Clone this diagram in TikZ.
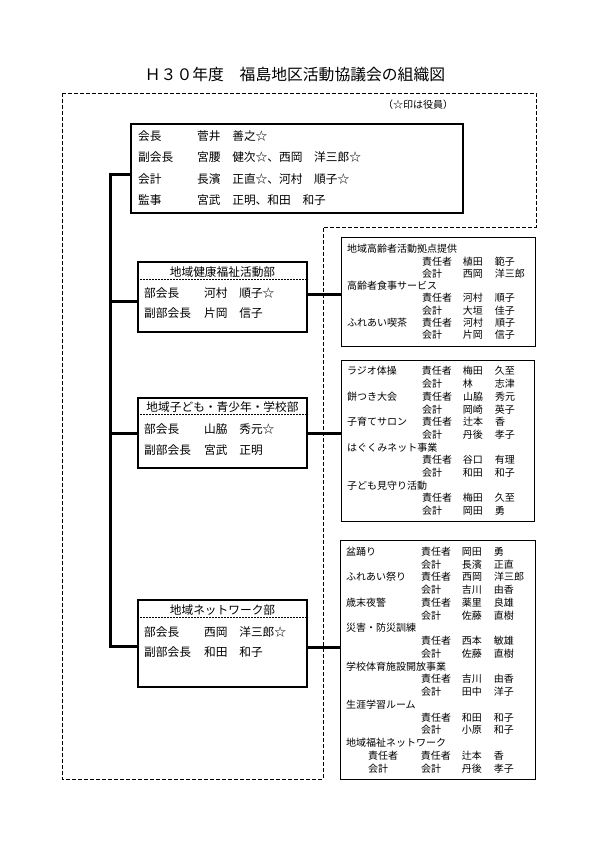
\documentclass[tikz,border=0pt]{standalone}
\usepackage{fontspec}
\setmainfont{Noto Sans CJK JP}
\newcommand{\officer}[2]{\makebox[59pt][l]{#1}#2}
\newcommand{\deptrow}[2]{\makebox[60pt][l]{#1}#2}
\newcommand{\duty}[4]{\makebox[75pt][l]{#1}\makebox[41pt][l]{#2}\makebox[32pt][l]{#3}#4}

\begin{document}
\begin{tikzpicture}[x=1pt,y=-1pt,
  frame/.style={draw, line width=2pt, anchor=north west, inner sep=0pt},
  unitbox/.style={draw, line width=1pt, anchor=north west, inner xsep=5.5pt, inner ysep=0pt,
    align=left, font=\fontsize{10}{#1}\selectfont},
  row/.style={anchor=base west, inner sep=0pt, font=\fontsize{11.7}{14}\selectfont},
  divider/.style={dash pattern=on 2pt off 1pt, line width=0.7pt},
  bus/.style={line width=3pt, line join=miter},
  outline/.style={dash pattern=on 4pt off 2pt, line width=0.8pt}]
\useasboundingbox (0,0) rectangle (595,842);

\node[font=\fontsize{15.8}{18}\selectfont] (title) at (295,75) {Ｈ３０年度　福島地区活動協議会の組織図};
\draw[outline] (62,93) -- (536,93) -- (536,227) -- (323,227) -- (323,779) -- (62,779) -- cycle;
\node[font=\fontsize{10}{12}\selectfont] (note) at (418,105) {（☆印は役員）};

% officers
\node[frame, minimum width=332pt, minimum height=89pt] (board) at (130,123) {};
\node[row] (board1) at (138,140.4) {\officer{会長}{菅井　善之☆}};
\node[row] (board2) at (138,161.6) {\officer{副会長}{宮腰　健次☆、西岡　洋三郎☆}};
\node[row] (board3) at (138,183.2) {\officer{会計}{長濱　正直☆、河村　順子☆}};
\node[row] (board4) at (138,204.4) {\officer{監事}{宮武　正明、和田　和子}};

% departments
\node[frame, minimum width=169pt, minimum height=70pt] (health) at (137,261) {};
\draw[divider] ([yshift=-18pt]health.north west) -- ([yshift=-18pt]health.north east);
\node[row, anchor=base] (healthT) at ([yshift=-15.4pt]health.north) {地域健康福祉活動部};
\node[row] (health1) at (144,297.4) {\deptrow{部会長}{河村　順子☆}};
\node[row] (health2) at (144,317.9) {\deptrow{副部会長}{片岡　信子}};

\node[frame, minimum width=169pt, minimum height=70pt] (youthdept) at (137,397) {};
\draw[divider] ([yshift=-17pt]youthdept.north west) -- ([yshift=-17pt]youthdept.north east);
\node[row, anchor=base] (youthT) at ([yshift=-14.4pt]youthdept.north) {地域子ども・青少年・学校部};
\node[row] (youth1) at (144,433.4) {\deptrow{部会長}{山脇　秀元☆}};
\node[row] (youth2) at (144,454.4) {\deptrow{副部会長}{宮武　正明}};

\node[frame, minimum width=169pt, minimum height=87pt] (netdept) at (137,599) {};
\draw[divider] ([yshift=-18pt]netdept.north west) -- ([yshift=-18pt]netdept.north east);
\node[row, anchor=base] (netT) at ([yshift=-15.4pt]netdept.north) {地域ネットワーク部};
\node[row] (net1) at (144,636.4) {\deptrow{部会長}{西岡　洋三郎☆}};
\node[row] (net2) at (144,656.4) {\deptrow{副部会長}{和田　和子}};

% activities
\node[unitbox=12.3, text width=183pt, minimum height=109pt] (healthjobs) at (341,237) {%
地域高齢者活動拠点提供\\
\duty{}{責任者}{植田}{範子}\\
\duty{}{会計}{西岡}{洋三郎}\\
高齢者食事サービス\\
\duty{}{責任者}{河村}{順子}\\
\duty{}{会計}{大垣}{佳子}\\
\duty{ふれあい喫茶}{責任者}{河村}{順子}\\
\duty{}{会計}{片岡}{信子}};

\node[unitbox=12.7, text width=182pt, minimum height=161pt] (youthjobs) at (341,360) {%
\duty{ラジオ体操}{責任者}{梅田}{久至}\\
\duty{}{会計}{林}{志津}\\
\duty{餅つき大会}{責任者}{山脇}{秀元}\\
\duty{}{会計}{岡崎}{英子}\\
\duty{子育てサロン}{責任者}{辻本}{香}\\
\duty{}{会計}{丹後}{孝子}\\
はぐくみネット事業\\
\duty{}{責任者}{谷口}{有理}\\
\duty{}{会計}{和田}{和子}\\
子ども見守り活動\\
\duty{}{責任者}{梅田}{久至}\\
\duty{}{会計}{岡田}{勇}};

\node[unitbox=12.76, text width=184pt, minimum height=239pt] (netjobs) at (340,540) {%
\duty{盆踊り}{責任者}{岡田}{勇}\\
\duty{}{会計}{長濱}{正直}\\
\duty{ふれあい祭り}{責任者}{西岡}{洋三郎}\\
\duty{}{会計}{吉川}{由香}\\
\duty{歳末夜警}{責任者}{薬里}{良雄}\\
\duty{}{会計}{佐藤}{直樹}\\
災害・防災訓練\\
\duty{}{責任者}{西本}{敏雄}\\
\duty{}{会計}{佐藤}{直樹}\\
学校体育施設開放事業\\
\duty{}{責任者}{吉川}{由香}\\
\duty{}{会計}{田中}{洋子}\\
生涯学習ルーム\\
\duty{}{責任者}{和田}{和子}\\
\duty{}{会計}{小原}{和子}\\
地域福祉ネットワーク\\
\duty{\hspace*{22pt}責任者}{責任者}{辻本}{香}\\
\duty{\hspace*{22pt}会計}{会計}{丹後}{孝子}};

% connectors
\coordinate (busTop) at (110,175);
\coordinate (busEnd) at (110,646);
\draw[bus] (board.west |- busTop) -- (busTop) -- (busEnd) -- (netdept.west |- busEnd);
\draw[bus] ([yshift=-4pt]health.west) -- ([yshift=-4pt]health.west -| busTop);
\draw[bus] (youthdept.west) -- (youthdept.west -| busTop);

\draw[bus] ([yshift=3pt]health.east) -- ([yshift=3pt]health.east -| healthjobs.west);
\draw[bus] (youthdept.east) -- (youthdept.east -| youthjobs.west);
\draw[bus] ([yshift=-3.5pt]netdept.east) -- ([yshift=-3.5pt]netdept.east -| netjobs.west);
\end{tikzpicture}
\end{document}
